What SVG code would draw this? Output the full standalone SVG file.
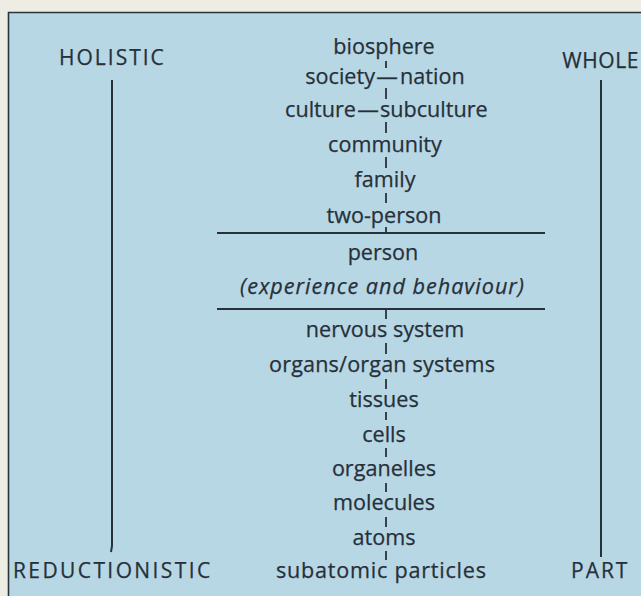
<svg xmlns="http://www.w3.org/2000/svg" width="641" height="596" viewBox="0 0 641 596">
<style>
  .t { font-family: "Open Sans", "Liberation Sans", sans-serif; font-size: 21.6px; fill: #26303a; stroke: #26303a; stroke-width: 0.25px; }
  .c { text-anchor: middle; }
  .cap { font-size: 21px; letter-spacing: 2px; }
  .it { font-style: italic; }
  .ln { stroke: #27313c; stroke-width: 2; fill: none; stroke-linecap: butt; }
  .tk { stroke: #27313c; stroke-width: 1.8; }
  .fr { stroke: #2a323a; stroke-width: 1.6; fill: none; }
</style>
<rect x="0" y="0" width="641" height="596" fill="#eeede4"/>
<rect x="8" y="12" width="640" height="590" fill="#b8d7e4"/>
<path class="fr" d="M 8.5 596 L 8.5 12.5 L 641 12.5"/>

<g id="holistic"><text class="t cap" x="59" y="65">HOLISTIC</text></g>
<g id="whole"><text class="t cap" x="639" y="68" text-anchor="end" style="letter-spacing:0.6px">WHOLE</text></g>
<g id="reductionistic"><text class="t cap" x="13" y="578" style="letter-spacing:2.4px">REDUCTIONISTIC</text></g>
<g id="part"><text class="t cap" x="571" y="578">PART</text></g>

<g id="axes">
  <path class="ln" d="M 112 80 L 112 546 L 111 552"/>
  <path class="ln" d="M 601 80 L 601 557"/>
</g>

<g id="biosphere"><text class="t c" x="384" y="54">biosphere</text></g>
<g id="society-nation"><text class="t"><tspan x="375" y="84" text-anchor="end">society</tspan><tspan x="387" y="84" text-anchor="middle">—</tspan><tspan x="400" y="84">nation</tspan></text></g>
<g id="culture-subculture"><text class="t"><tspan x="356" y="117" text-anchor="end">culture</tspan><tspan x="368" y="117" text-anchor="middle">—</tspan><tspan x="380" y="117">subculture</tspan></text></g>
<g id="community"><text class="t c" x="385" y="152">community</text></g>
<g id="family"><text class="t c" x="385" y="187">family</text></g>
<g id="two-person"><text class="t c" x="384" y="223">two-person</text></g>
<g id="person"><text class="t c" x="383" y="260">person</text></g>
<g id="experience"><text class="t c it" x="382" y="294" textLength="284" lengthAdjust="spacing">(experience and behaviour)</text></g>
<g id="nervous-system"><text class="t c" x="385" y="337">nervous system</text></g>
<g id="organs"><text class="t c" x="382" y="372" textLength="226" lengthAdjust="spacing">organs/organ systems</text></g>
<g id="tissues"><text class="t c" x="384" y="407">tissues</text></g>
<g id="cells"><text class="t c" x="384" y="442">cells</text></g>
<g id="organelles"><text class="t c" x="384" y="476">organelles</text></g>
<g id="molecules"><text class="t c" x="384" y="510">molecules</text></g>
<g id="atoms"><text class="t c" x="384" y="545">atoms</text></g>
<g id="subatomic"><text class="t c" x="381" y="578" textLength="210" lengthAdjust="spacing">subatomic particles</text></g>

<g id="connectors">
  <line class="ln" x1="217" y1="233" x2="545" y2="233"/>
  <line class="ln" x1="217" y1="309" x2="545" y2="309"/>
  <line class="tk" x1="386" y1="61" x2="386" y2="68"/>
  <line class="tk" x1="386" y1="88" x2="386" y2="99"/>
  <line class="tk" x1="386" y1="122" x2="386" y2="133"/>
  <line class="tk" x1="386" y1="157" x2="386" y2="168"/>
  <line class="tk" x1="386" y1="193" x2="386" y2="203"/>
  <line class="tk" x1="386" y1="227" x2="386" y2="233"/>
  <line class="tk" x1="386" y1="309" x2="386" y2="319"/>
  <line class="tk" x1="386" y1="343" x2="386" y2="354"/>
  <line class="tk" x1="386" y1="379" x2="386" y2="389"/>
  <line class="tk" x1="386" y1="412" x2="386" y2="420"/>
  <line class="tk" x1="386" y1="448" x2="386" y2="457"/>
  <line class="tk" x1="386" y1="483" x2="386" y2="492"/>
  <line class="tk" x1="386" y1="517" x2="386" y2="527"/>
  <line class="tk" x1="386" y1="551" x2="386" y2="560"/>
</g>
</svg>
